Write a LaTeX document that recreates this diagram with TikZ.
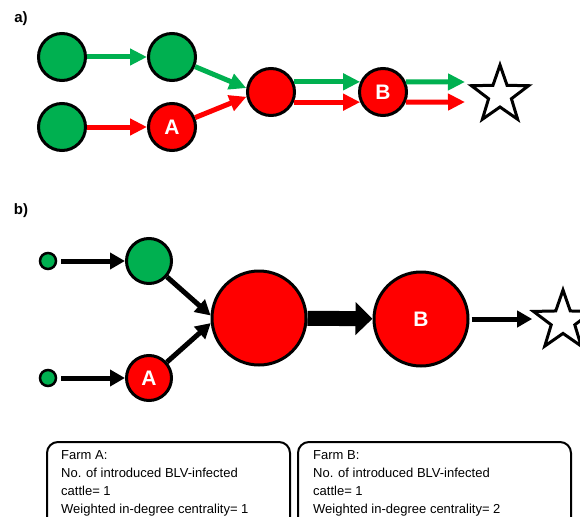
\documentclass[tikz,border=0pt]{standalone}
\usepackage{fontspec}
\setmainfont{Liberation Sans}
\usetikzlibrary{arrows.meta,shapes.geometric}
\definecolor{ogreen}{HTML}{00B050}
\definecolor{ored}{HTML}{FF0000}
\tikzset{
  gnode/.style={circle,draw=black,line width=3pt,fill=ogreen,minimum size=47pt,inner sep=0pt},
  rnode/.style={circle,draw=black,line width=3pt,fill=ored,minimum size=47pt,inner sep=0pt,text=white,font=\fontsize{21}{21}\selectfont\bfseries},
  starnode/.style={star,star points=5,star point ratio=2.5,draw=black,line width=3pt,fill=white,minimum size=60pt,inner sep=0pt},
  garr/.style={draw=ogreen,line width=5pt,-{Triangle[length=17pt,width=16pt]}},
  rarr/.style={draw=ored,line width=5pt,-{Triangle[length=17pt,width=16pt]}},
  karr/.style={draw=black,line width=5pt,-{Triangle[length=15pt,width=16pt]}},
  bigarr/.style={draw=black,line width=15pt,-{Triangle[length=17pt,width=32pt]}},
  panel/.style={font=\fontsize{15}{15}\selectfont\bfseries},
  infobox/.style={draw=black,line width=2pt,rounded corners=11pt},
  infotext/.style={anchor=north west,inner sep=0pt,align=left,font=\fontsize{13}{18}\selectfont},
}
\begin{document}
\begin{tikzpicture}[x=1pt,y=-1pt]
\useasboundingbox (0,0) rectangle (580,516);
\clip (0,0) rectangle (580,516);
% ---------- a)
\node[panel] (la) at (21,19) {a)};
\node[gnode] (g1) at (62,57) {};
\node[gnode] (g2) at (172,57) {};
\node[gnode] (g3) at (62,127) {};
\node[rnode] (A) at (172,127) {A};
\node[rnode] (m) at (271,92) {};
\node[rnode] (B) at (383,92) {B};
\node[starnode] (stara) at (500,95) {};
\coordinate (ge) at (465,82);
\coordinate (re) at (465,102);
\draw[garr] (g1) -- (g2);
\draw[rarr] (g3) -- (A);
\draw[garr] (g2) -- (m.171);
\draw[rarr] (A) -- (m.191);
\draw[garr] (m.24) -- (B.156);
\draw[rarr] (m.-24) -- (B.-156);
\draw[garr] (B.24) -- (ge);
\draw[rarr] (B.-24) -- (re);
% ---------- b)
\node[panel] (lb) at (21,211) {b)};
\node[gnode,minimum size=16pt,line width=2.5pt] (s1) at (48,261) {};
\node[gnode,minimum size=16pt,line width=2.5pt] (s2) at (48,378) {};
\node[gnode,minimum size=45pt] (gb) at (149,261) {};
\node[rnode,minimum size=45pt] (Ab) at (149,378) {A};
\node[rnode,minimum size=94pt] (big) at (259,318) {};
\node[rnode,minimum size=94pt] (Bb) at (421,319) {B};
\node[starnode,minimum size=62pt] (starb) at (563,321) {};
\draw[karr,shorten <=4pt] (s1) -- (gb);
\draw[karr,shorten <=4pt] (s2) -- (Ab);
\draw[karr] (gb) -- (big.177);
\draw[karr] (Ab) -- (big.186);
\draw[bigarr] (big) -- (Bb);
\draw[karr,shorten <=2pt,shorten >=-3pt] (Bb) -- (starb.162 |- Bb);
% ---------- info boxes
\draw[infobox] (47,442) rectangle (290,540);
\draw[infobox] (298,442) rectangle (571,540);
\node[infotext] (ta) at (61,450) {Farm A:\\No. of introduced BLV-infected\\cattle= 1\\Weighted in-degree centrality= 1};
\node[infotext] (tb) at (313,450) {Farm B:\\No. of introduced BLV-infected\\cattle= 1\\Weighted in-degree centrality= 2};
\end{tikzpicture}
\end{document}
